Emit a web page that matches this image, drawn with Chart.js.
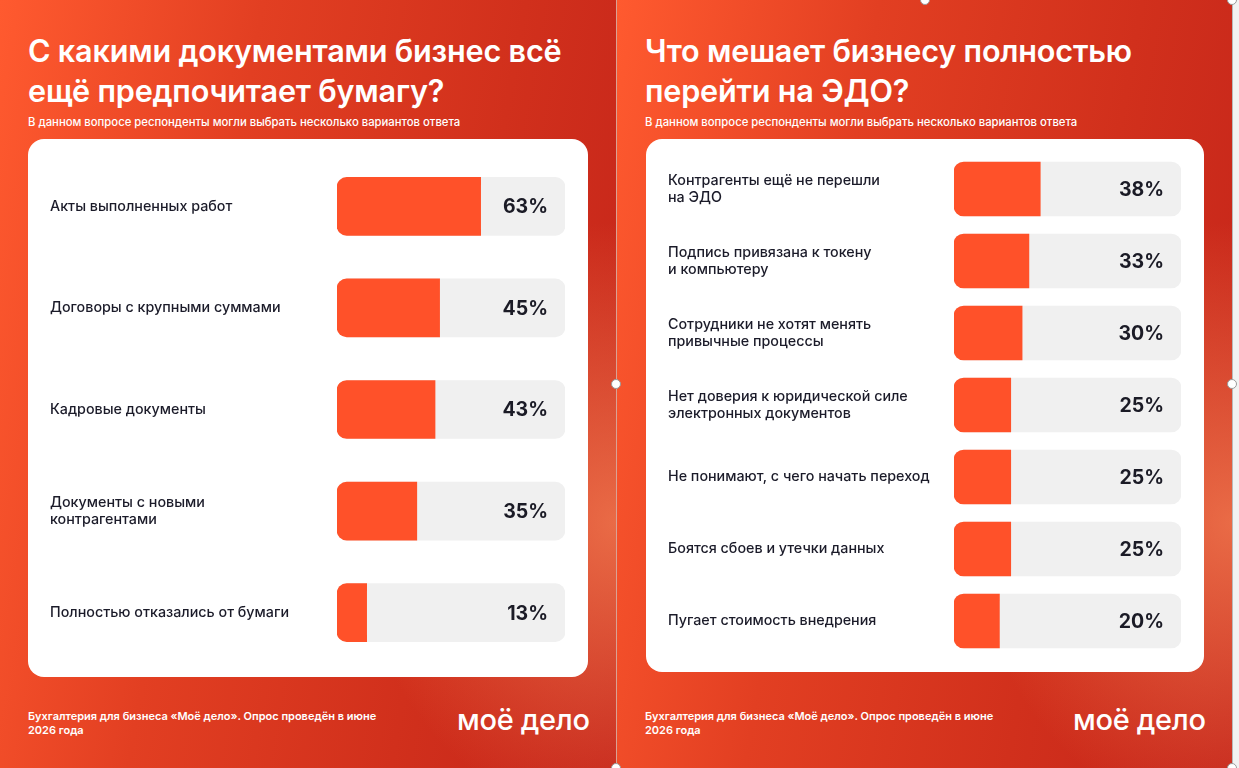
<!DOCTYPE html>
<html>
<head>
<meta charset="utf-8">
<script src="https://cdn.jsdelivr.net/npm/chart.js@4.4.1/dist/chart.umd.min.js"></script>
<style>
  html, body { margin: 0; padding: 0; }
  body { width: 1239px; height: 768px; position: relative; overflow: hidden; background: #f2f2f2; font-family: Inter, "Noto Sans", sans-serif; }
  .panel { position: absolute; top: 0; height: 768px; overflow: hidden;
    background:
      radial-gradient(ellipse 260px 300px at 100% 68%, rgba(245,130,85,0.75), rgba(245,130,85,0) 100%),
      linear-gradient(100deg, #ff5a2f 0%, #e23f22 35%, #d1301c 70%, #c4241a 100%); }
  #p1 { left: 0; width: 616px; }
  #p2 { left: 617px; width: 615px; }
  .sep { position: absolute; left: 616px; top: 0; width: 1px; height: 768px; background: #d9a294; }
  .edge { position: absolute; left: 1232px; top: 0; width: 1px; height: 768px; background: #b9b9b9; }
  .title { position: absolute; left: 28px; top: 31px; color: #fff; font-size: 30.6px; font-weight: 600; line-height: 40px; letter-spacing: -0.2px; }
  .sub { position: absolute; left: 28px; top: 115px; color: #fff; font-size: 11.3px; font-weight: 500; }
  .card { position: absolute; top: 139px; background: #fff; border-radius: 16px; }
  .card canvas { position: absolute; left: 0; top: 0; }
  .foot { position: absolute; left: 28px; top: 709px; color: #fff; font-size: 11px; font-weight: 600; line-height: 14px; }
  .logo { position: absolute; top: 702px; color: #fff; font-size: 29px; font-weight: 500; letter-spacing: -0.3px; }
  .h { position: absolute; width: 8px; height: 8px; border-radius: 50%; background: #fff; border: 1px solid #9a9a9a; margin: -5px 0 0 -5px; }
</style>
</head>
<body>
<div class="panel" id="p1">
  <div class="title">С какими документами бизнес всё<br>ещё предпочитает бумагу?</div>
  <div class="sub">В данном вопросе респонденты могли выбрать несколько вариантов ответа</div>
  <div class="card" style="left:28px;width:560px;height:538px"><canvas id="c1"></canvas></div>
  <div class="foot">Бухгалтерия для бизнеса «Моё дело». Опрос проведён в июне<br>2026 года</div>
  <div class="logo" style="left:457px">моё дело</div>
</div>
<div class="panel" id="p2">
  <div class="title">Что мешает бизнесу полностью<br>перейти на ЭДО?</div>
  <div class="sub">В данном вопросе респонденты могли выбрать несколько вариантов ответа</div>
  <div class="card" style="left:29px;width:558px;height:533px"><canvas id="c2"></canvas></div>
  <div class="foot">Бухгалтерия для бизнеса «Моё дело». Опрос проведён в июне<br>2026 года</div>
  <div class="logo" style="left:456px">моё дело</div>
</div>
<div class="sep"></div>
<div class="edge"></div>
<div class="h" style="left:616px;top:384px"></div>
<div class="h" style="left:1232px;top:384px"></div>
<div class="h" style="left:925px;top:0px"></div>
<div class="h" style="left:1232px;top:0px"></div>
<div class="h" style="left:616px;top:768px"></div>
<div class="h" style="left:1232px;top:768px"></div>

<script>
// left chart: documents kept on paper
const paperLabels = [
  'Акты выполненных работ',
  'Договоры с крупными суммами',
  'Кадровые документы',
  ['Документы с новыми', 'контрагентами'],
  'Полностью отказались от бумаги'
];
const paperValues = [63, 45, 43, 35, 13];

// right chart: what blocks the move to EDO
const edoLabels = [
  ['Контрагенты ещё не перешли', 'на ЭДО'],
  ['Подпись привязана к токену', 'и компьютеру'],
  ['Сотрудники не хотят менять', 'привычные процессы'],
  ['Нет доверия к юридической силе', 'электронных документов'],
  'Не понимают, с чего начать переход',
  'Боятся сбоев и утечки данных',
  'Пугает стоимость внедрения'
];
const edoValues = [38, 33, 30, 25, 25, 25, 20];

const scaleMax = 100;

// puts the "NN%" text at the right end of each grey track
const pctLabels = {
  id: 'pctLabels',
  afterDatasetsDraw(chart) {
    const ctx = chart.ctx;
    const meta = chart.getDatasetMeta(1);
    const xEnd = chart.scales.x.getPixelForValue(scaleMax) - 17;
    ctx.save();
    ctx.font = '700 19.5px Inter, "Noto Sans", sans-serif';
    ctx.fillStyle = '#1b1b26';
    ctx.textAlign = 'right';
    ctx.textBaseline = 'middle';
    meta.data.forEach((bar, i) => {
      ctx.fillText(chart.data.datasets[1].data[i] + '%', xEnd, bar.y + 1);
    });
    ctx.restore();
  }
};

function makeChart(id, labels, values, opt) {
  const el = document.getElementById(id);
  el.width = opt.w;
  el.height = opt.h;
  return new Chart(el, {
    type: 'bar',
    data: {
      labels: labels,
      datasets: [
        {
          data: labels.map(() => scaleMax),
          backgroundColor: '#f0f0f0',
          borderRadius: 10,
          borderSkipped: false,
          barThickness: opt.bar,
          order: 2
        },
        {
          data: values,
          backgroundColor: '#ff5129',
          borderRadius: { topLeft: 10, bottomLeft: 10, topRight: 0, bottomRight: 0 },
          borderSkipped: false,
          barThickness: opt.bar,
          order: 1
        }
      ]
    },
    options: {
      indexAxis: 'y',
      responsive: false,
      animation: false,
      events: [],
      layout: { padding: opt.pad },
      plugins: { legend: { display: false }, tooltip: { enabled: false } },
      datasets: { bar: { grouped: false } },
      scales: {
        x: { min: 0, max: scaleMax, display: false },
        y: {
          grid: { display: false },
          border: { display: false },
          ticks: {
            crossAlign: 'far',
            color: '#1b1b29',
            font: { family: 'Inter, "Noto Sans", sans-serif', size: 14.3, weight: 500, lineHeight: 1.2 }
          },
          afterFit(scale) {
            scale.width = opt.axisW;
            // let layout.padding alone decide where the rows sit
            scale.paddingTop = 0;
            scale.paddingBottom = 0;
          }
        }
      }
    },
    plugins: [pctLabels]
  });
}

makeChart('c1', paperLabels, paperValues, {
  w: 560, h: 538, bar: 58, axisW: 287,
  pad: { left: 22, right: 23, top: 16.5, bottom: 13.5 }
});
makeChart('c2', edoLabels, edoValues, {
  w: 558, h: 533, bar: 54, axisW: 286,
  pad: { left: 22, right: 23, top: 14, bottom: 15 }
});
</script>
</body>
</html>
